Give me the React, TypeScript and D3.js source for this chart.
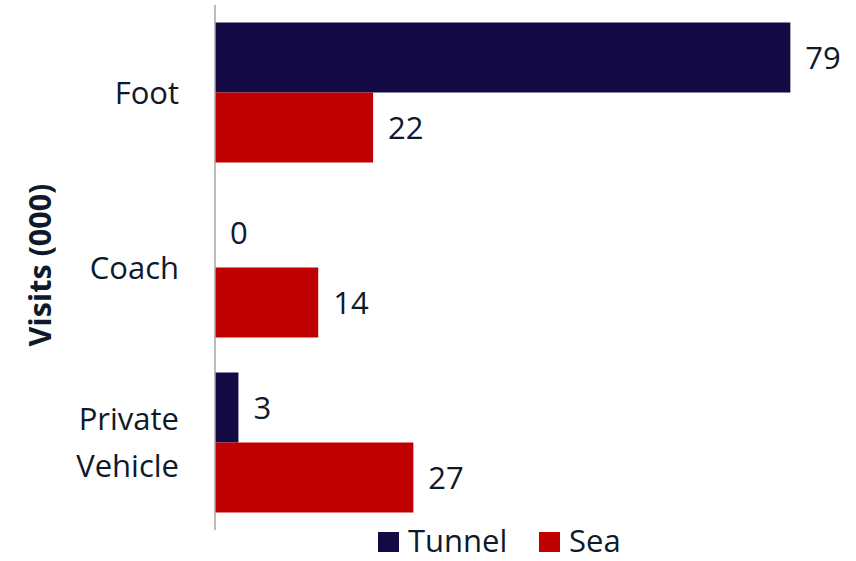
import React from "react";
import * as d3 from "d3";

const categories = ["Foot", "Coach", "Private Vehicle"];
const seriesNames = ["Tunnel", "Sea"];
const tunnelValues = [78.6, 0, 3.2];
const seaValues = [21.6, 14.1, 27.1];
const colors = ["#130943", "#C00000"];

const W = 856;
const H = 561;
const FONT = "'Open Sans', 'Noto Sans', sans-serif";
const TEXT = "#0E1A2B";
const FS = 31;

export default function App() {
  const x = d3.scaleLinear().domain([0, 80]).range([215, 800.6]);
  const y = d3.scaleBand<string>().domain(categories).range([5, 530]).paddingInner(0.2).paddingOuter(0.1);
  const ys = d3.scaleBand<string>().domain(seriesNames).range([0, y.bandwidth()]);
  const series = [tunnelValues, seaValues];
  const fmt = d3.format(".0f");

  return (
    <svg width={W} height={H} style={{ position: "absolute", left: 0, top: 0, background: "#fff" }}>
      {categories.map((c, i) => (
        <g key={c} transform={`translate(0,${y(c)})`}>
          {seriesNames.map((s, j) => {
            const v = series[j][i];
            const y0 = ys(s)!;
            return (
              <g key={s}>
                <rect x={x(0)} y={y0} width={x(v) - x(0)} height={ys.bandwidth()} fill={colors[j]} />
                <text
                  x={x(v) + 15}
                  y={y0 + ys.bandwidth() / 2}
                  dy="0.36em"
                  fontFamily={FONT}
                  fontSize={FS}
                  fill={TEXT}
                >
                  {fmt(v)}
                </text>
              </g>
            );
          })}
        </g>
      ))}
      <line x1={x(0)} x2={x(0)} y1={5} y2={530} stroke="#A6A6A6" strokeWidth={1.5} />
      {categories.map((c) => {
        const words = c.split(" ");
        const cy = y(c)! + y.bandwidth() / 2;
        const lh = 46.5;
        return (
          <text key={c} x={179} textAnchor="end" fontFamily={FONT} fontSize={FS} fill={TEXT}>
            {words.map((w, k) => (
              <tspan key={k} x={179} y={cy + (k - (words.length - 1) / 2) * lh} dy="0.36em">
                {w}
              </tspan>
            ))}
          </text>
        );
      })}
      <text
        transform={`translate(40,265) rotate(-90)`}
        textAnchor="middle"
        dy="0.36em"
        fontFamily={FONT}
        fontSize={30.5}
        fontWeight="bold"
        fill={TEXT}
      >
        Visits (000)
      </text>
      {seriesNames.map((s, j) => {
        const lx = j === 0 ? 378 : 539;
        return (
          <g key={s}>
            <rect x={lx} y={532} width={21} height={20} fill={colors[j]} />
            <text x={lx + 30} y={541} dy="0.36em" fontFamily={FONT} fontSize={FS} fill={TEXT}>
              {s}
            </text>
          </g>
        );
      })}
    </svg>
  );
}
